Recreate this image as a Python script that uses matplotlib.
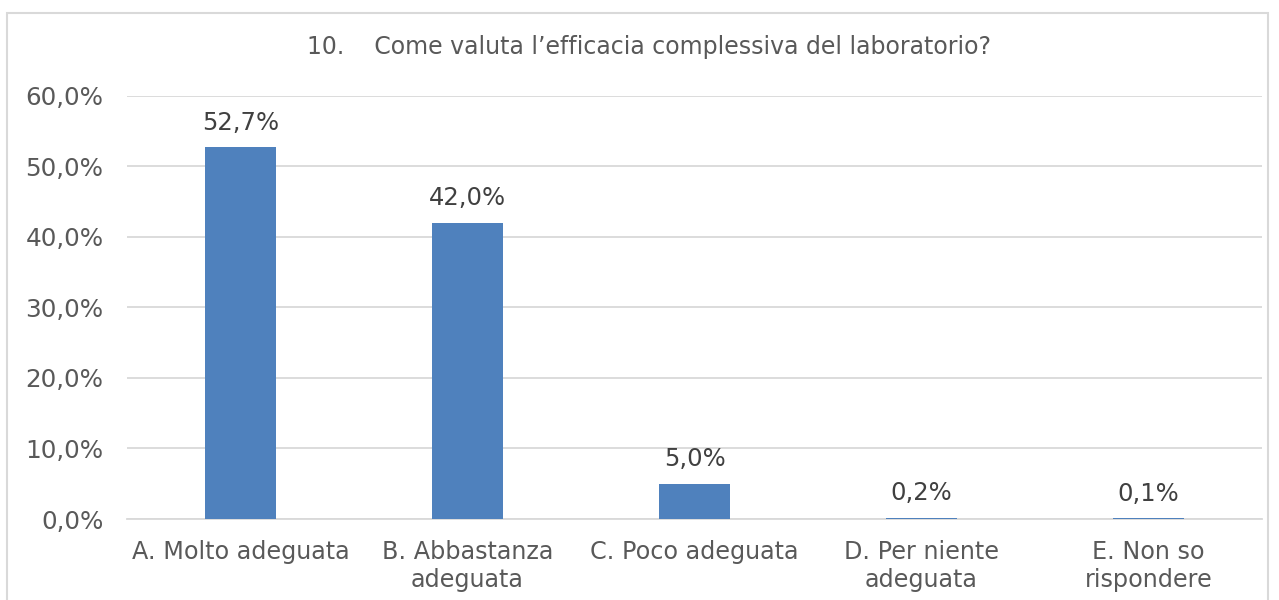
import matplotlib
matplotlib.use("Agg")
import matplotlib.pyplot as plt
from matplotlib.patches import Rectangle

plt.rcParams["font.family"] = ["DejaVu Sans"]

categories = ["A. Molto adeguata", "B. Abbastanza\nadeguata", "C. Poco adeguata",
              "D. Per niente\nadeguata", "E. Non so\nrispondere"]
values = [52.7, 42.0, 5.0, 0.2, 0.1]
yticks = [0, 10, 20, 30, 40, 50, 60]
title = "10.    Come valuta l\u2019efficacia complessiva del laboratorio?"

def fmt(v):
    return f"{v:.1f}".replace(".", ",") + "%"

txt = "#595959"
fig = plt.figure(figsize=(12.79, 6.0), dpi=100)
fig.patches.append(Rectangle((7/1279, -0.01), (1268-7)/1279, 1 - 13/600 + 0.01,
                             transform=fig.transFigure, fill=False,
                             edgecolor="#d9d9d9", linewidth=1.5))
ax = fig.add_axes([127/1279, 1 - 519/600, (1262-127)/1279, (519-95.5)/600])
x = list(range(len(categories)))
bars = ax.bar(x, values, width=0.311, color="#4f81bd", zorder=3)
ax.set_xlim(-0.5, len(categories) - 0.5)
ax.set_ylim(0, 60)
ax.set_yticks(yticks)
ax.set_yticklabels([fmt(v) for v in yticks], fontsize=17.7, color=txt)
ax.set_xticks(x)
ax.set_xticklabels(categories, fontsize=17.2, color=txt, linespacing=1.2)
ax.tick_params(axis="both", length=0)
ax.tick_params(axis="y", pad=17)
ax.tick_params(axis="x", pad=15)
ax.grid(axis="y", color="#d9d9d9", linewidth=1.3, zorder=0)
for s in ["top", "right", "left"]:
    ax.spines[s].set_visible(False)
ax.spines["bottom"].set_color("#d9d9d9")
ax.spines["bottom"].set_linewidth(1.3)
for xi, v in zip(x, values):
    ax.annotate(fmt(v), (xi, v), xytext=(0, 9), textcoords="offset points",
                ha="center", va="bottom", fontsize=17.5, color="#404040")
fig.text(649.5/1279, 1 - 47/600, title, ha="center", va="center", fontsize=17, color=txt)
fig.savefig("out.png", dpi=100)
